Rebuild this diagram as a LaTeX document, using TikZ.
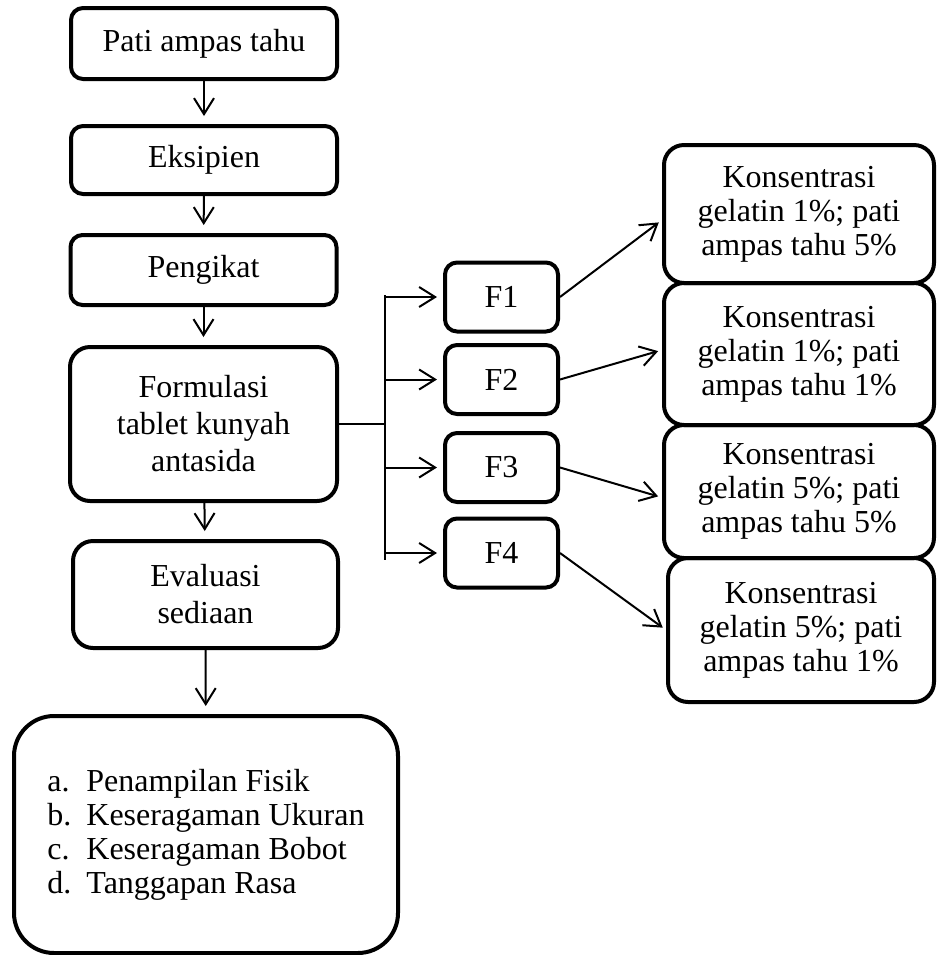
\documentclass[tikz,border=0pt]{standalone}
\usepackage{fontspec}
\setmainfont{Liberation Serif}
\usetikzlibrary{arrows.meta}

\begin{document}
\begin{tikzpicture}[x=0.5pt, y=-0.5pt,
        box/.style={draw, line width=2pt, rounded corners=6pt, align=center, inner sep=0pt,
            font=\fontsize{16}{18.5}\selectfont},
        bigbox/.style={box, rounded corners=10pt},
        konbox/.style={bigbox, minimum width=135pt, font=\fontsize{16}{17}\selectfont},
        fbox/.style={box, minimum width=56.5pt, minimum height=34.5pt},
        arr/.style={line width=1pt, -{Straight Barb[length=8pt,width=10pt]}, shorten >=4pt},
        branch/.style={line width=0.8pt}]
        \useasboundingbox (0,0) rectangle (937,955);

        % Main flow nodes
        \node[box, minimum width=133pt, minimum height=35.5pt] (pati) at (204,43.5) {Pati ampas tahu};
        \node[box, minimum width=133pt, minimum height=34pt] (eksipien) at (204,160) {Eksipien};
        \node[box, minimum width=133pt, minimum height=35pt] (pengikat) at (203.5,270) {Pengikat};
        \node[bigbox, minimum width=133.5pt, minimum height=77pt] (formulasi) at (203.5,424) {Formulasi\\tablet kunyah\\antasida};
        \node[bigbox, minimum width=132.5pt, minimum height=53.5pt] (evaluasi) at (205.5,594.5) {Evaluasi\\sediaan};
        \node[box, rounded corners=20pt, minimum width=192pt, minimum height=118.5pt, align=left,
            font=\fontsize{16}{17}\selectfont] (uji) at (206,834.5)
            {\makebox[19.5pt][l]{a.}Penampilan Fisik\\
             \makebox[19.5pt][l]{b.}Keseragaman Ukuran\\
             \makebox[19.5pt][l]{c.}Keseragaman Bobot\\
             \makebox[19.5pt][l]{d.}Tanggapan Rasa};

        % Formula nodes
        \node[fbox] (F1) at (501.5,297) {F1};
        \node[fbox] (F2) at (501.5,379.5) {F2};
        \node[fbox] (F3) at (501.5,467.5) {F3};
        \node[fbox] (F4) at (501.5,553) {F4};

        % Concentration nodes
        \node[konbox, minimum height=69pt] (K1) at (799,214) {Konsentrasi\\gelatin 1\%; pati\\ampas tahu 5\%};
        \node[konbox, minimum height=71pt] (K2) at (799,354) {Konsentrasi\\gelatin 1\%; pati\\ampas tahu 1\%};
        \node[konbox, minimum height=66.5pt] (K3) at (799,491.5) {Konsentrasi\\gelatin 5\%; pati\\ampas tahu 5\%};
        \node[konbox, minimum width=133pt, minimum height=72pt] (K4) at (801,630) {Konsentrasi\\gelatin 5\%; pati\\ampas tahu 1\%};

        % Main flow arrows
        \draw[arr] (pati) -- (eksipien);
        \draw[arr] (eksipien) -- (pengikat);
        \draw[arr] (pengikat) -- (formulasi);
        \draw[arr] (formulasi) -- (evaluasi);
        \draw[arr] (evaluasi) -- (uji);

        % Branch to formulas
        \coordinate (vtop) at (385,295);
        \coordinate (vbot) at (385,560);
        \draw[branch] (formulasi.east) -- (formulasi.east -| vtop);
        \draw[branch] (vtop) -- (vbot);
        \draw[arr, shorten >=3pt] (vtop |- F1) -- (F1);
        \draw[arr, shorten >=3pt] (vtop |- F2) -- (F2);
        \draw[arr, shorten >=3pt] (vtop |- F3) -- (F3);
        \draw[arr, shorten >=3pt] (vtop |- F4) -- (F4);

        % Formula to concentration
        \draw[arr, shorten >=2pt] (F1.east) -- ([yshift=-3pt]K1.west);
        \draw[arr, shorten >=2pt] (F2.east) -- ([yshift=2pt]K2.west);
        \draw[arr, shorten >=2pt] (F3.east) -- ([yshift=-3pt]K3.west);
        \draw[arr, shorten >=2pt] (F4.east) -- (K4.west);
    \end{tikzpicture}
\end{document}
